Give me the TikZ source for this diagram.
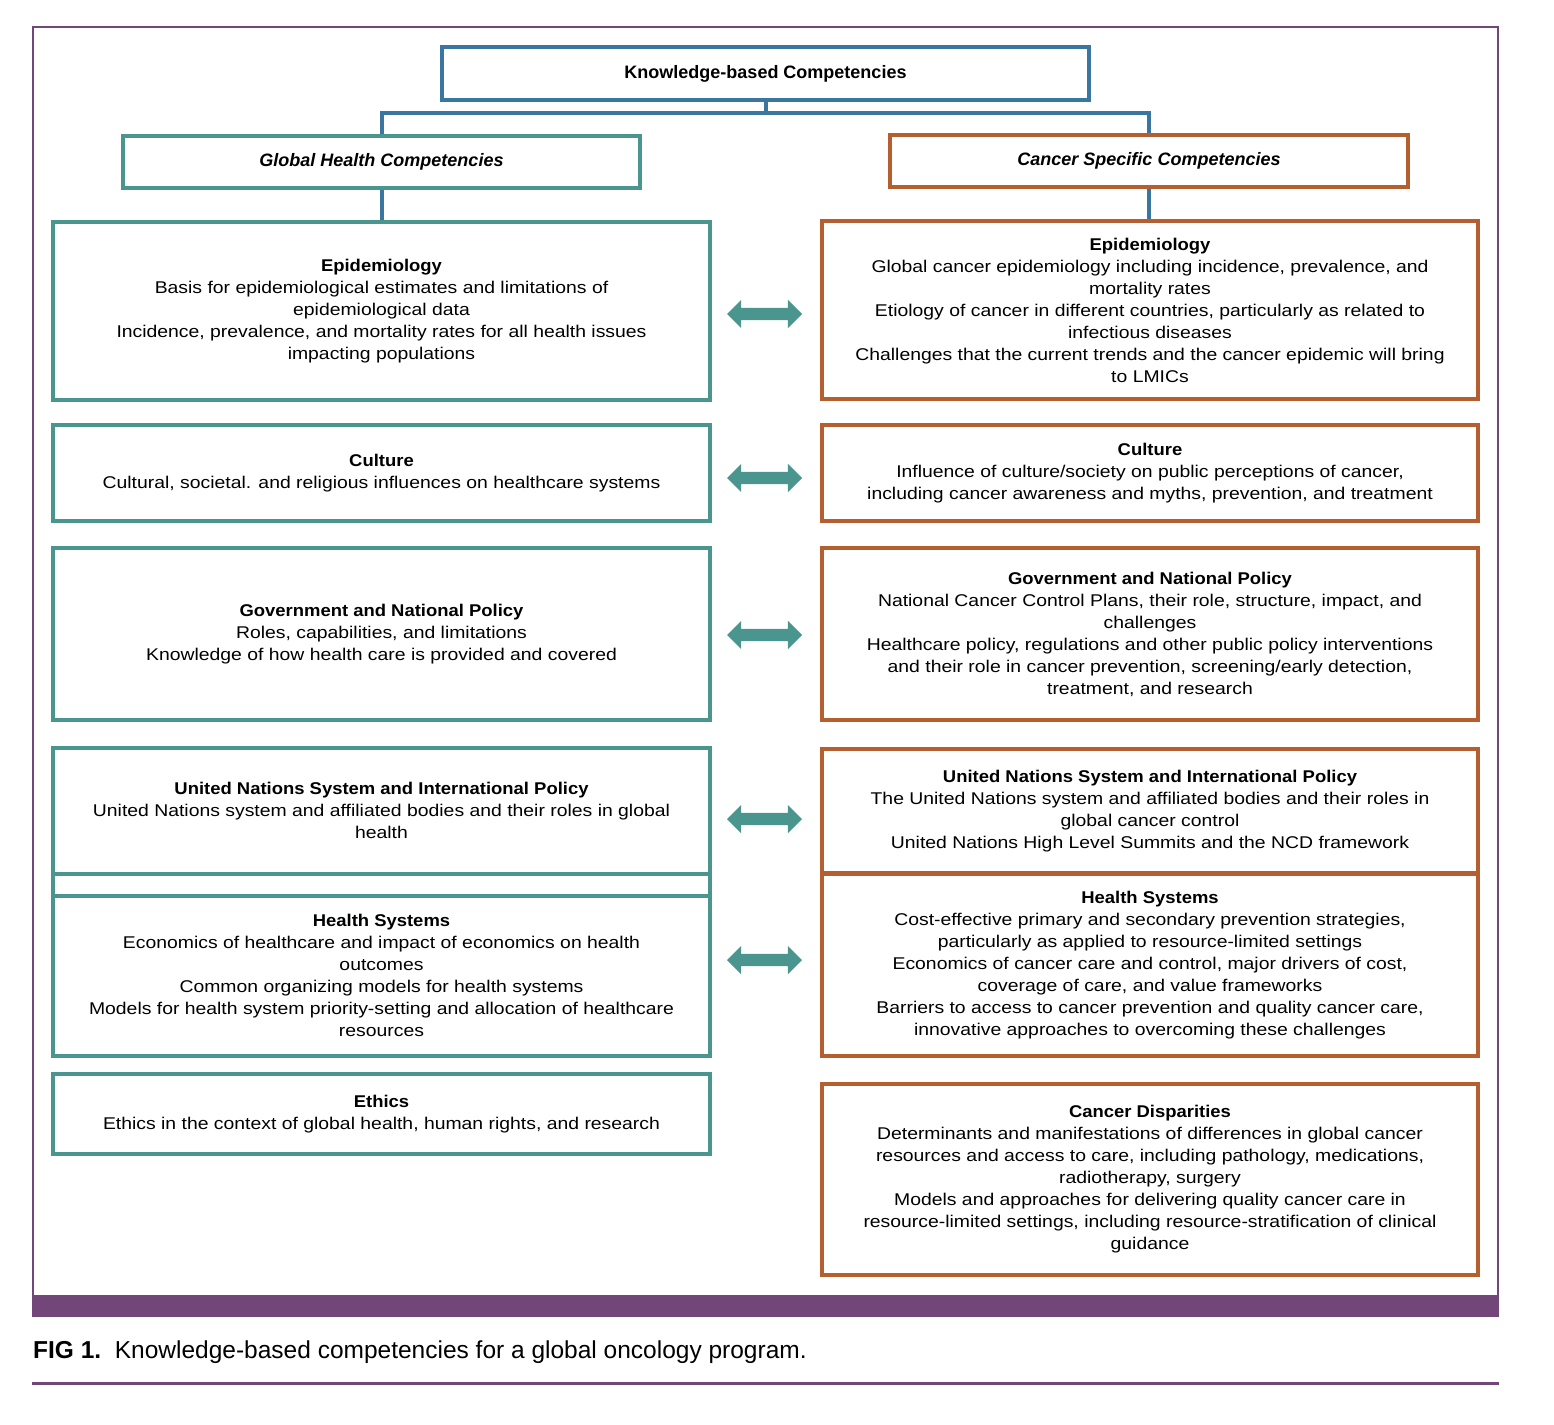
\documentclass[tikz,border=0pt]{standalone}
\usepackage{fontspec}
\setmainfont{Liberation Sans}[
    UprightFeatures={FakeStretch=1.14},
    BoldFeatures={FakeStretch=1.085}]
\newfontfamily\headfont{Liberation Sans}
\usetikzlibrary{positioning,calc,shapes.arrows}

\definecolor{kbblue}{HTML}{3A76A0}
\definecolor{ghteal}{HTML}{4A968F}
\definecolor{csorange}{HTML}{B55F30}
\definecolor{figpurple}{HTML}{73467A}

\begin{document}
\begin{tikzpicture}[
    x=1pt, y=-1pt,
    box/.style={draw, line width=4pt, align=center, inner sep=0pt,
        font=\fontsize{17}{22}\selectfont},
    head/.style={box, font=\headfont\fontsize{18}{22}\selectfont\bfseries},
    ghbox/.style={box, draw=ghteal, minimum width=657pt},
    csbox/.style={box, draw=csorange, minimum width=656pt},
    link/.style={draw=kbblue, line width=4pt},
    both/.style={double arrow, fill=ghteal, minimum height=75pt, inner xsep=0pt,
        inner ysep=6pt, double arrow head extend=8pt}
]
    \useasboundingbox (0,0) rectangle (1554,1424);

    % Frame and caption
    \draw[figpurple, line width=2pt] (33,1296) |- (1498,27) -- (1498,1296);
    \fill[figpurple] (32,1295) rectangle (1499,1317);
    \node[anchor=west, inner sep=0pt, font=\headfont\fontsize{24.5}{28}\selectfont] (cap) at (33,1352)
        {\textbf{FIG 1.}\ \ Knowledge-based competencies for a global oncology program.};
    \draw[figpurple, line width=3pt] (32,1383) -- (1499,1383);

    % Top level
    \node[head, draw=kbblue, minimum width=647pt, minimum height=53pt] (kb) at (765.5,73.5)
        {Knowledge-based Competencies};
    \node[head, draw=ghteal, minimum width=517pt, minimum height=52pt] (gh) at (381.5,162)
        {\itshape Global Health Competencies};
    \node[head, draw=csorange, minimum width=518pt, minimum height=52pt] (cs) at (1149,161)
        {\itshape Cancer Specific Competencies};

    % Global health column
    \node[ghbox, minimum height=178pt] (L1) at (381.5,311)
        {\textbf{Epidemiology}\\Basis for epidemiological estimates and limitations of\\epidemiological data\\Incidence, prevalence, and mortality rates for all health issues\\impacting populations};
    \node[ghbox, minimum height=96pt] (L2) at (381.5,473)
        {\textbf{Culture}\\Cultural, societal. and religious influences on healthcare systems};
    \node[ghbox, minimum height=172pt] (L3) at (381.5,634)
        {\textbf{Government and National Policy}\\Roles, capabilities, and limitations\\Knowledge of how health care is provided and covered};
    \node[ghbox, minimum height=125.5pt] (L4) at (381.5,810.75)
        {\textbf{United Nations System and International Policy}\\United Nations system and affiliated bodies and their roles in global\\health};
    \node[ghbox, minimum height=22pt] (L4b) at (381.5,884.5) {};
    \node[ghbox, minimum height=160.5pt] (L5) at (381.5,975.75)
        {\textbf{Health Systems}\\Economics of healthcare and impact of economics on health\\outcomes\\Common organizing models for health systems\\Models for health system priority-setting and allocation of healthcare\\resources};
    \node[ghbox, minimum height=80pt] (L6) at (381.5,1114)
        {\textbf{Ethics}\\Ethics in the context of global health, human rights, and research};

    % Cancer specific column
    \node[csbox, minimum height=178pt] (R1) at (1150,310)
        {\textbf{Epidemiology}\\Global cancer epidemiology including incidence, prevalence, and\\mortality rates\\Etiology of cancer in different countries, particularly as related to\\infectious diseases\\Challenges that the current trends and the cancer epidemic will bring\\to LMICs};
    \node[csbox, minimum height=96pt] (R2) at (1150,473)
        {\textbf{Culture}\\Influence of culture/society on public perceptions of cancer,\\including cancer awareness and myths, prevention, and treatment};
    \node[csbox, minimum height=172pt] (R3) at (1150,634)
        {\textbf{Government and National Policy}\\National Cancer Control Plans, their role, structure, impact, and\\challenges\\Healthcare policy, regulations and other public policy interventions\\and their role in cancer prevention, screening/early detection,\\treatment, and research};
    \node[csbox, minimum height=124.5pt] (R4) at (1150,811)
        {\textbf{United Nations System and International Policy}\\The United Nations system and affiliated bodies and their roles in\\global cancer control\\United Nations High Level Summits and the NCD framework};
    \node[csbox, minimum height=182.5pt] (R5) at (1150,964.75)
        {\textbf{Health Systems}\\Cost-effective primary and secondary prevention strategies,\\particularly as applied to resource-limited settings\\Economics of cancer care and control, major drivers of cost,\\coverage of care, and value frameworks\\Barriers to access to cancer prevention and quality cancer care,\\innovative approaches to overcoming these challenges};
    \node[csbox, minimum height=191pt] (R6) at (1150,1179.5)
        {\textbf{Cancer Disparities}\\Determinants and manifestations of differences in global cancer\\resources and access to care, including pathology, medications,\\radiotherapy, surgery\\Models and approaches for delivering quality cancer care in\\resource-limited settings, including resource-stratification of clinical\\guidance};

    % Tree links
    \draw[link] (kb.south) -- ++(0,11) -| (gh.north);
    \draw[link] (kb.south) -- ++(0,11) -| (cs.north);
    \draw[link] (gh.south) -- (gh.south |- L1.north);
    \draw[link] (cs.south) -- (cs.south |- R1.north);

    % Two-way arrows
    \node[both] (a1) at (764.5,314) {};
    \node[both] (a2) at (764.5,478) {};
    \node[both] (a3) at (764.5,635) {};
    \node[both] (a4) at (764.5,819) {};
    \node[both] (a5) at (764.5,960) {};

\end{tikzpicture}
\end{document}
